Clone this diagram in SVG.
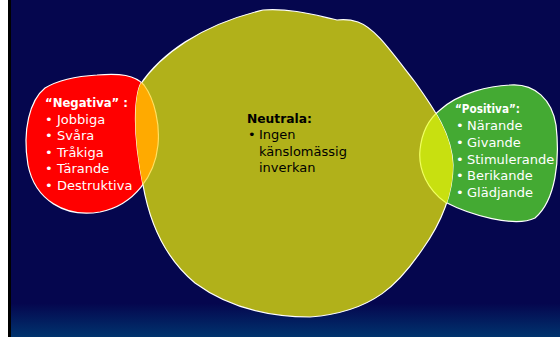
<svg xmlns="http://www.w3.org/2000/svg" width="560" height="337" viewBox="0 0 560 337">
  <defs>
    <linearGradient id="bg" x1="0" y1="0" x2="0" y2="1">
      <stop offset="0" stop-color="#05064e"/>
      <stop offset="0.9" stop-color="#05064e"/>
      <stop offset="1" stop-color="#00336e"/>
    </linearGradient>
    <path id="neutralShape" d="M140,85 C160,55 200,25 263,10 C290,8 315,15 333,19 L337,20 C345,19 352,20 358,22 C375,28 390,50 415,82 C435,110 452,135 453,165 C453,195 442,222 422,250 C400,282 375,312 310,317 C265,317 225,305 195,283 C165,258 150,225 143,185 C138,160 134,130 136,105 C137,95 138,90 140,85 Z"/>
    <path id="negShape" d="M97,75 C120,73 135,75 144,85 C155,100 160,125 158,145 C155,175 135,205 100,212 C65,218 35,200 28,165 C22,130 30,100 45,88 C60,79 80,76 97,75 Z"/>
    <path id="posShape" d="M510,85 C535,83 552,100 556,125 C560,160 556,200 535,218 C515,228 470,215 445,202 C428,190 418,170 420,150 C422,130 430,118 440,110 C460,92 490,86 510,85 Z"/>
    <clipPath id="inNeutral">
      <use href="#neutralShape"/>
    </clipPath>
  </defs>
  <style>
    .edge { stroke: #ffffff; stroke-width: 1.2; }
    .lbl { font-family: "DejaVu Sans", "Liberation Sans", sans-serif; font-size: 13px; }
    .head { font-weight: bold; }
    .light { fill: #ffffff; }
    .dark { fill: #000000; }
  </style>

  <!-- backdrop -->
  <rect x="0" y="0" width="560" height="337" fill="url(#bg)"/>
  <rect x="0" y="0" width="8" height="337" fill="#ffffff"/>
  <rect x="8" y="0" width="3" height="337" fill="#000000"/>

  <!-- negative set -->
  <g id="negativa">
    <use href="#negShape" fill="#ff0000" class="edge"/>
  </g>

  <!-- positive set -->
  <g id="positiva">
    <use href="#posShape" fill="#44aa33" class="edge"/>
  </g>

  <!-- neutral set -->
  <g id="neutrala">
    <use href="#neutralShape" fill="#b1b11a" class="edge"/>
  </g>

  <!-- overlaps with the neutral set -->
  <g id="overlap-neg" clip-path="url(#inNeutral)">
    <use href="#negShape" fill="#ffaa00" stroke="#ffe060" stroke-width="1.2"/>
  </g>
  <g id="overlap-pos" clip-path="url(#inNeutral)">
    <use href="#posShape" fill="#c8e010" stroke="#f0ff60" stroke-width="1.2"/>
  </g>

  <!-- labels -->
  <g id="negativa-text" class="lbl light">
    <text x="45" y="107" class="head" textLength="83" lengthAdjust="spacingAndGlyphs">“Negativa” :</text>
    <text x="45" y="123.5">•</text><text x="57" y="123.5">Jobbiga</text>
    <text x="45" y="140">•</text><text x="57" y="140">Svåra</text>
    <text x="45" y="156.5">•</text><text x="57" y="156.5">Tråkiga</text>
    <text x="45" y="173">•</text><text x="57" y="173">Tärande</text>
    <text x="45" y="190">•</text><text x="57" y="190">Destruktiva</text>
  </g>

  <g id="neutrala-text" class="lbl dark">
    <text x="247" y="123" class="head" textLength="65" lengthAdjust="spacingAndGlyphs">Neutrala:</text>
    <text x="248" y="139">•</text><text x="259" y="139">Ingen</text>
    <text x="259" y="155.5">känslomässig</text>
    <text x="259" y="172">inverkan</text>
  </g>

  <g id="positiva-text" class="lbl light">
    <text x="455" y="113" class="head" textLength="65" lengthAdjust="spacingAndGlyphs">“Positiva”:</text>
    <text x="456" y="130">•</text><text x="467" y="130">Närande</text>
    <text x="456" y="147">•</text><text x="467" y="147">Givande</text>
    <text x="456" y="163.5">•</text><text x="467" y="163.5">Stimulerande</text>
    <text x="456" y="180">•</text><text x="467" y="180">Berikande</text>
    <text x="456" y="197">•</text><text x="467" y="197">Glädjande</text>
  </g>
</svg>
